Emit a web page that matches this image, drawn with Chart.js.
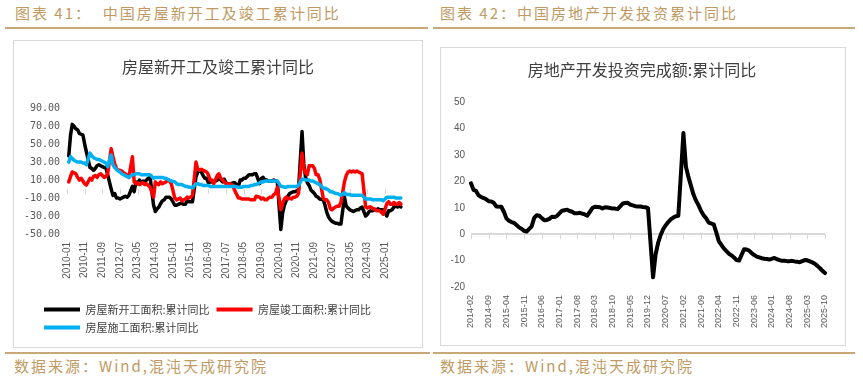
<!DOCTYPE html>
<html><head><meta charset="utf-8">
<script src="https://cdn.jsdelivr.net/npm/chart.js@4.4.1/dist/chart.umd.min.js"></script>
<style>
html,body{margin:0;padding:0;background:#fff;width:863px;height:378px;overflow:hidden;position:relative;font-family:"Noto Sans CJK SC",sans-serif;}
.hdr{position:absolute;top:3px;font-size:15px;color:#bf9a63;letter-spacing:2px;white-space:pre;line-height:20px;}
.rule{position:absolute;height:1.5px;background:#c9a878;}
.src{position:absolute;top:356px;font-size:15px;color:#bf9a63;letter-spacing:2px;white-space:pre;line-height:20px;}
.frame{position:absolute;border:1px solid #d9d9d9;box-sizing:border-box;}
canvas{position:absolute;}
</style></head><body>
<div class="hdr" style="left:15px;">图表 41：  中国房屋新开工及竣工累计同比</div>
<div class="hdr" style="left:440px;">图表 42：中国房地产开发投资累计同比</div>
<div class="rule" style="left:5px;top:27px;width:423px;"></div>
<div class="rule" style="left:433px;top:27px;width:422px;"></div>
<div class="frame" style="left:13px;top:40px;width:410px;height:308px;"></div>
<div class="frame" style="left:440px;top:47px;width:406px;height:299px;"></div>
<canvas id="c1" width="407" height="305" style="left:14px;top:41px;"></canvas>
<canvas id="c2" width="403" height="296" style="left:441px;top:48px;"></canvas>
<div class="rule" style="left:5px;top:352px;width:425px;"></div>
<div class="rule" style="left:433px;top:352px;width:422px;"></div>
<div class="src" style="left:14px;">数据来源：Wind,混沌天成研究院</div>
<div class="src" style="left:440px;">数据来源：Wind,混沌天成研究院</div>
<script>
// ---------- Chart 1 data (monthly, 2010-01 .. 2025-10; January has no separate release) ----------
const leftStart = [2010, 1], leftEnd = [2025, 10];
const leftTickEvery = 10;
const newStarts = [
  null, 37, 60, 72, 70, 67, 66, 62, 61, 60, 50, 41,
  null, 24, 23, 21, 23, 26, 27, 26, 25, 24, 24, 16,
  null, 0, -7, -5, -10, -10, -11, -10, -9, -8, -9, -7,
  null, 3, -3, 8, 6, 10, 7, 9, 8, 10, 12, 13.5,
  null, -18, -25, -22, -20, -16, -13, -12, -9, -9, -9, -11,
  null, -18, -18, -17, -16, -16, -17, -17, -13, -14, -14, -14,
  null, 14, 19, 21, 19, 15, 12, 12, 7, 8, 8, 8,
  null, 10, 12, 10, 8, 11, 7, 5, 6, 6, 7, 7,
  null, 3, 10, 10, 12, 12, 14, 16, 16, 16, 17, 17,
  null, 6, 12, 13, 10, 10, 9, 9, 9, 10, 9, 8.5,
  null, -45, -27, -18, -13, -8, -5, -4, -3, -3, -2, -1,
  null, 64, 28, 13, 7, 4, -1, -3, -5, -8, -9, -11,
  null, -12, -18, -26, -31, -34, -36, -37, -38, -38, -39, -39,
  null, -9, -19, -21, -23, -24, -25, -24, -23, -23, -21, -20,
  null, -30, -28, -25, -24, -24, -23, -23, -22, -23, -23, -23,
  null, -30, -24, -24, -23, -20, -19, -20, -19, -20
];
const completions = [
  null, 8, 14, 19, 18, 17, 13, 10, 12, 9, 6, 4.5,
  null, 12, 10, 14, 15, 13, 16, 17, 15, 13, 14, 17,
  null, 45, 36, 28, 23, 21, 21, 20, 18, 17, 15, 13,
  null, 36, 8, 6, 7, 5, 6, 7, 5, 6, 4, 2,
  null, -9, 8, 6, 5, 8, 6, 7, 8, 10, 9, 6,
  null, -10, -12, -11, -10, -13, -12, -11, -9, -10, -9, -7,
  null, 30, 22, 21, 22, 21, 20, 19, 16, 10, 10, 6,
  null, 15, 17, 12, 10, 8, 6, 5, 6, 5, 3, -2,
  null, -10, -10, -11, -11, -11, -11, -11, -12, -12, -12, -8,
  null, -9, -11, -10, -12, -12, -10, -9, -9, -6, -5, 2,
  null, -23, -16, -11, -9, -11, -10, -11, -9, -9, -8, -5,
  null, 40, 23, 18, 16, 26, 26, 26, 23, 16, 16, 11,
  null, -10, -12, -12, -15, -22, -23, -21, -20, -19, -19, -15,
  null, 8, 15, 19, 20, 19, 20, 19, 20, 19, 18, 17,
  null, -20, -21, -20, -20, -22, -22, -24, -24, -24, -26, -28,
  null, -16, -14, -17, -17, -15, -17, -17, -15, -17
];
const underConstruction = [
  null, 30, 36, 34, 32, 31, 30, 30, 30, 29, 29, 27,
  null, 40, 37, 35, 34, 33, 33, 32, 31, 30, 29, 25,
  null, 38, 27, 24, 22, 20, 19, 17, 16, 15, 14, 13,
  null, 16, 16, 17, 17, 17, 16, 16, 16, 16, 16, 16,
  null, 12, 13, 13, 13, 13, 13, 12, 12, 11, 10, 9,
  null, 8, 6, 5, 5, 5, 4, 3, 3, 2, 2, 1.3,
  null, 6, 6, 5, 5, 4, 4, 4, 4, 3, 3, 3,
  null, 3, 3, 3, 3, 3, 3, 3, 3, 3, 3, 3,
  null, 2, 2, 2, 3, 3, 3, 3, 4, 4, 5, 5,
  null, 7, 8, 8, 9, 9, 9, 9, 9, 9, 9, 9,
  null, 3, 3, 2, 2, 3, 3, 3, 3, 3, 3, 4,
  null, 11, 11, 10, 10, 10, 9, 9, 8, 7, 6, 5,
  null, 1, 1, 0, -1, -3, -3, -4, -5, -5, -6, -7,
  null, -4, -6, -6, -6, -7, -7, -7, -7, -7, -7, -7,
  null, -11, -11, -11, -11, -12, -12, -12, -12, -12, -12, -13,
  null, -9, -9, -9, -9, -9, -10, -10, -10, -10
];
const leftNames = ['房屋新开工面积:累计同比', '房屋竣工面积:累计同比', '房屋施工面积:累计同比'];
const leftYTicks = { min: -50, max: 90, step: 20 };

// ---------- Chart 2 data (monthly, 2014-02 .. 2025-10) ----------
const rightStart = [2014, 2], rightEnd = [2025, 10];
const rightTickEvery = 7;
const investment = [
  19.3, 16.8, 16.4, 14.7, 14.1, 13.7, 13.2, 12.5, 12.4, 11.9, 10.5,
  null, 10.4, 8.5, 6.0, 5.1, 4.6, 4.3, 3.5, 2.6, 2.0, 1.3, 1.0,
  null, 3.0, 6.2, 7.2, 7.0, 6.1, 5.3, 5.4, 5.8, 6.6, 6.5, 6.9,
  null, 8.9, 9.1, 9.3, 8.8, 8.5, 7.9, 7.9, 8.1, 7.8, 7.5, 7.0,
  null, 9.9, 10.4, 10.3, 10.2, 9.7, 10.2, 10.1, 9.9, 9.7, 9.7, 9.5,
  null, 11.6, 11.8, 11.9, 11.2, 10.9, 10.6, 10.5, 10.5, 10.3, 10.2, 9.9,
  null, -16.3, -7.7, -3.3, -0.3, 1.9, 3.4, 4.6, 5.6, 6.3, 6.8, 7.0,
  null, 38.3, 25.6, 21.6, 18.3, 15.0, 12.7, 10.9, 8.8, 7.2, 6.0, 4.4,
  null, 3.7, 0.7, -2.7, -4.0, -5.4, -6.4, -7.4, -8.0, -8.8, -9.8, -10.0,
  null, -5.7, -5.8, -6.2, -7.2, -7.9, -8.5, -8.8, -9.1, -9.3, -9.4, -9.6,
  null, -9.0, -9.5, -9.8, -10.1, -10.1, -10.2, -10.2, -10.1, -10.3, -10.4, -10.6,
  null, -9.8, -9.9, -10.3, -10.7, -11.2, -12.0, -12.9, -13.9, -14.7
];
const rightName = '房地产开发投资完成额:累计同比';
const rightYTicks = { min: -20, max: 50, step: 10 };

// ---------- helpers ----------
function monthLabels(start, end) {
  const out = [];
  let [y, m] = start;
  while (y < end[0] || (y === end[0] && m <= end[1])) {
    out.push(y + '-' + String(m).padStart(2, '0'));
    m++; if (m > 12) { m = 1; y++; }
  }
  return out;
}
const leftLabels = monthLabels(leftStart, leftEnd);
const rightLabels = monthLabels(rightStart, rightEnd);

const zeroTicks = {
  id: 'zeroTicks',
  beforeDatasetsDraw(chart, args, opts) {
    const xs = chart.scales.x, ys = chart.scales.y;
    const y0 = ys.getPixelForValue(0);
    const ctx = chart.ctx;
    ctx.save();
    ctx.strokeStyle = '#d9d9d9';
    ctx.lineWidth = 1;
    for (let i = 0; i < chart.data.labels.length; i += opts.every) {
      const px = Math.round(xs.getPixelForValue(i)) + 0.5;
      ctx.beginPath(); ctx.moveTo(px, y0); ctx.lineTo(px, y0 + 5); ctx.stroke();
    }
    ctx.restore();
  }
};

// shifts the legend / title boxes inside the frame (as in the original layout)
const boxShift = {
  id: 'boxShift',
  afterLayout(chart, args, opts) {
    if (chart.legend && opts.legend) { chart.legend.left += opts.legend; }
    if (chart.titleBlock && opts.title) { chart.titleBlock.left += opts.title; }
  }
};

const zeroGrid = (c) => c.tick && c.tick.value === 0 ? '#d9d9d9' : 'rgba(0,0,0,0)';

function lineDs(label, data, color, width, order) {
  return { label, data, borderColor: color, backgroundColor: color, borderWidth: width,
    pointRadius: 0, pointHoverRadius: 0, spanGaps: true, tension: 0, fill: false,
    borderJoinStyle: 'round', borderCapStyle: 'round', order };
}

new Chart(document.getElementById('c1'), {
  type: 'line',
  data: {
    labels: leftLabels,
    datasets: [
      lineDs(leftNames[0], newStarts, '#000000', 3.5, 2),
      lineDs(leftNames[1], completions, '#ff0000', 3.5, 1),
      lineDs(leftNames[2], underConstruction, '#00b0f0', 3.5, 0)
    ]
  },
  plugins: [zeroTicks, boxShift],
  options: {
    responsive: false, animation: false,
    layout: { padding: { left: 0, right: 18, top: 0, bottom: 3 } },
    plugins: {
      zeroTicks: { every: leftTickEvery },
      boxShift: { legend: 23, title: 19 },
      tooltip: { enabled: false },
      title: { display: true, text: '房屋新开工及竣工累计同比', color: '#404040',
        font: { family: 'Noto Sans CJK SC', size: 16, weight: 'normal' }, padding: { top: 16, bottom: 32 } },
      legend: {
        position: 'bottom', align: 'start',
        labels: {
          boxWidth: 36, boxHeight: 4, padding: 7, color: '#404040',
          font: { family: 'Noto Sans CJK SC', size: 11 },
          sort: (a, b) => a.datasetIndex - b.datasetIndex,
          generateLabels: (chart) => Chart.defaults.plugins.legend.labels.generateLabels(chart).map(l => Object.assign(l, { lineWidth: 0 }))
        }
      }
    },
    scales: {
      x: {
        grid: { display: false, drawTicks: false }, border: { display: false },
        ticks: { autoSkip: false, minRotation: 90, maxRotation: 90, padding: 8, color: '#595959',
          font: { family: 'Liberation Sans', size: 10 },
          callback: (v, i) => i % leftTickEvery === 0 ? leftLabels[i] : '' },
        afterFit: (s) => { s.height = 63; }
      },
      y: {
        min: leftYTicks.min, max: leftYTicks.max,
        grid: { color: zeroGrid, lineWidth: 2, drawTicks: false }, border: { display: false },
        ticks: { stepSize: leftYTicks.step, padding: 7, color: '#595959',
          font: { family: 'DejaVu Sans Mono', size: 10 }, callback: (v) => Number(v).toFixed(2) },
        afterFit: (s) => { s.width = 53; }
      }
    }
  }
});

new Chart(document.getElementById('c2'), {
  type: 'line',
  data: {
    labels: rightLabels,
    datasets: [ lineDs(rightName, investment, '#000000', 4, 0) ]
  },
  plugins: [zeroTicks, boxShift],
  options: {
    responsive: false, animation: false,
    layout: { padding: { left: 0, right: 19, top: 0, bottom: 0 } },
    plugins: {
      zeroTicks: { every: rightTickEvery },
      boxShift: { title: 18 },
      tooltip: { enabled: false },
      legend: { display: false },
      title: { display: true, text: rightName, color: '#404040',
        font: { family: 'Noto Sans CJK SC', size: 16, weight: 'normal' }, padding: { top: 12, bottom: 23 } }
    },
    scales: {
      x: {
        grid: { display: false, drawTicks: false }, border: { display: false },
        ticks: { autoSkip: false, minRotation: 90, maxRotation: 90, padding: 8, color: '#595959',
          font: { family: 'Liberation Sans', size: 9 },
          callback: (v, i) => i % rightTickEvery === 0 ? rightLabels[i] : '' },
        afterFit: (s) => { s.height = 57; }
      },
      y: {
        min: rightYTicks.min, max: rightYTicks.max,
        grid: { color: zeroGrid, lineWidth: 2, drawTicks: false }, border: { display: false },
        ticks: { stepSize: rightYTicks.step, padding: 6, color: '#595959',
          font: { family: 'Liberation Sans', size: 10 } },
        afterFit: (s) => { s.width = 30; }
      }
    }
  }
});
</script>
</body></html>
